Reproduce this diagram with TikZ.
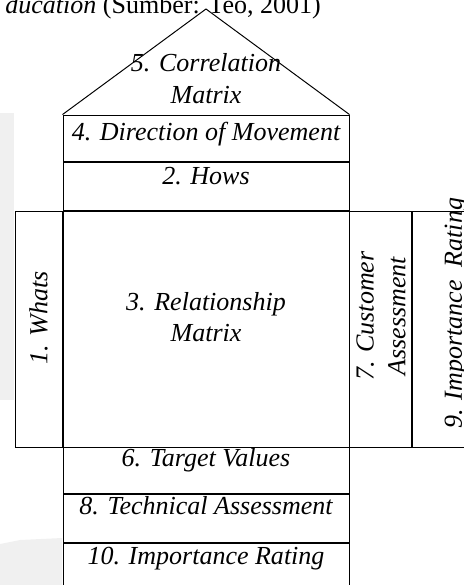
\documentclass[tikz,border=0pt]{standalone}
\usepackage{fontspec}
\setmainfont{Liberation Serif}
\usetikzlibrary{positioning}
\tikzset{%
	cell/.style     = {draw, rectangle, line width=0.7pt, inner sep=0pt}, % Box
	txt/.style      = {inner sep=0pt, align=center, font=\fontsize{18.5}{22.5}\selectfont\itshape}, % Label
	smudge/.style   = {fill=gray!12, draw=none},
}

\begin{document}
\begin{tikzpicture}
	\useasboundingbox (0,0) rectangle (11.6,-14.625);
	\fill[smudge] (0,-2.825) rectangle (0.35,-10);
	\fill[smudge] (0,-13.6) -- (0.5,-13.5) -- (1.55,-13.45) -- (1.55,-14.625) -- (0,-14.625) -- cycle;

	\node [cell, minimum width=7.15cm, minimum height=5.9cm] (rel) at (5.15,-8.225) {};
	\node [cell, minimum width=7.15cm, minimum height=1.2cm] (hows) [above=0pt of rel] {};
	\node [cell, minimum width=7.15cm, minimum height=1.15cm] (dir) [above=0pt of hows] {};
	\node [cell, minimum width=1.175cm, minimum height=5.9cm] (whats) [left=0pt of rel] {};
	\node [cell, minimum width=1.55cm, minimum height=5.9cm] (cust) [right=0pt of rel] {};
	\node [cell, minimum width=2.15cm, minimum height=5.9cm] (imp) [right=0pt of cust] {};
	\node [cell, minimum width=7.15cm, minimum height=1.15cm] (target) [below=0pt of rel] {};
	\node [cell, minimum width=7.15cm, minimum height=1.2cm] (tech) [below=0pt of target] {};
	\node [cell, minimum width=7.15cm, minimum height=1.2cm] (rating) [below=0pt of tech] {};
	\coordinate (apex) at (5.15,-0.225);
	\draw[line width=0.7pt] (dir.north west) -- (apex) -- (dir.north east);

	\node [anchor=base east, inner sep=0pt, font=\fontsize{18.5}{22.5}\selectfont] (caption) at (8.025,-0.3375) {\textit{ducation} (Sumber: Teo, 2001)};
	\node [txt] (corrtxt) [above=0.27cm of dir.north] {5. Correlation\\Matrix};
	\node [txt, anchor=base] (dirtxt) at ([yshift=-0.65cm]dir.north) {4. Direction of Movement};
	\node [txt, anchor=base] (howstxt) at ([yshift=-0.575cm]hows.north) {2. Hows};
	\node [txt] (reltxt) at ([yshift=0.3cm]rel.center) {3. Relationship\\Matrix};
	\node [txt, rotate=90] (whatstxt) at ([yshift=0.275cm]whats.center) {1. Whats};
	\node [txt, rotate=90] (custtxt) at ([yshift=0.325cm]cust.center) {7. Customer\\Assessment};
	\node [txt, rotate=90] (imptxt) at ([yshift=0.4cm]imp.center) {9. Importance~ Rating};
	\node [txt, anchor=base] (targettxt) at ([yshift=-0.475cm]target.north) {6. Target Values};
	\node [txt, anchor=base] (techtxt) at ([yshift=-0.5cm]tech.north) {8. Technical Assessment};
	\node [txt, anchor=base] (ratingtxt) at ([yshift=-0.525cm]rating.north) {10. Importance Rating};
\end{tikzpicture}
\end{document}
